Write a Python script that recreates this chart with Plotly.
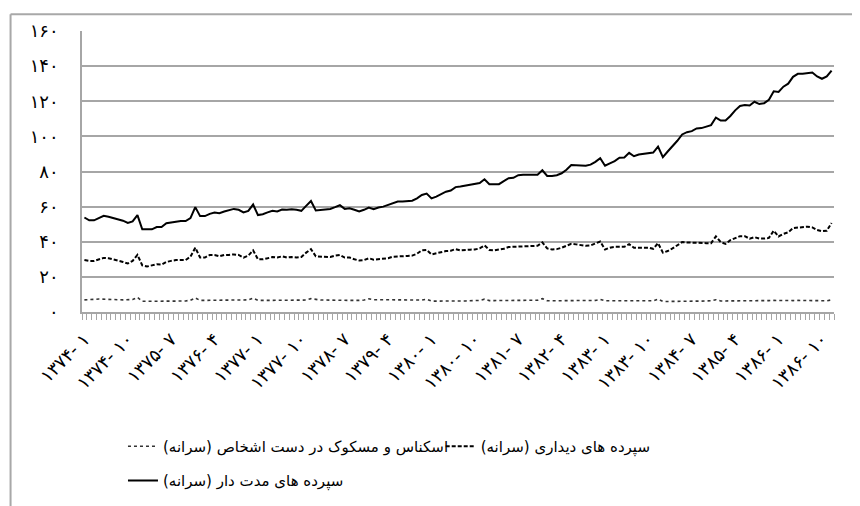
import plotly.graph_objects as go

# monthly per-capita series, 1374-1 .. 1386-12 (12 values per row = one year)
term_dep = [
    53.8, 52.2, 52.2, 53.5, 54.8, 54.2, 53.5, 52.5, 52.0, 50.7, 51.6, 55.2,
    47.1, 47.1, 47.1, 48.4, 48.4, 50.5, 51.0, 51.6, 51.8, 51.8, 53.5, 59.7,
    54.6, 54.6, 55.9, 56.7, 56.3, 57.2, 57.8, 58.7, 58.2, 56.7, 57.6, 61.2,
    55.2, 55.7, 56.7, 57.6, 57.2, 58.3, 58.2, 58.5, 58.2, 57.6, 60.4, 63.2,
    57.8, 58.2, 58.7, 58.7, 59.7, 60.8, 58.7, 59.1, 58.2, 57.2, 58.2, 59.5,
    58.5, 59.5, 60.0, 61.0, 61.9, 62.9, 62.9, 63.2, 63.4, 64.7, 66.6, 67.4,
    64.7, 65.7, 67.2, 68.5, 69.2, 71.1, 71.5, 71.9, 72.4, 73.0, 73.4, 75.6,
    72.8, 72.8, 72.8, 74.5, 76.2, 76.4, 77.9, 78.2, 78.2, 78.2, 78.2, 80.7,
    77.5, 77.5, 77.9, 79.0, 81.0, 83.7, 83.5, 83.7, 83.3, 83.9, 85.5, 87.6,
    83.3, 84.6, 85.9, 87.8, 88.0, 90.6, 88.7, 89.7, 90.2, 90.6, 90.8, 94.2,
    88.2, 91.4, 94.4, 97.5, 101.1, 102.4, 103.0, 104.5, 104.7, 105.4, 106.4, 110.7,
    109.0, 109.0, 111.6, 114.8, 117.3, 117.8, 117.6, 119.7, 118.4, 118.9, 120.8, 125.7,
    125.3, 128.3, 130.0, 133.9, 135.6, 135.6, 136.0, 136.4, 134.1, 132.8, 134.1, 137.5,
]

demand_dep = [
    29.6, 29.1, 29.1, 30.0, 30.8, 30.6, 30.0, 29.5, 28.5, 27.6, 29.1, 32.5,
    26.6, 25.9, 26.6, 27.2, 27.0, 28.5, 29.1, 29.6, 29.6, 29.6, 31.5, 36.6,
    31.0, 31.0, 32.5, 32.5, 31.7, 32.5, 32.5, 32.8, 32.5, 31.0, 32.1, 35.1,
    30.0, 30.0, 30.6, 31.3, 31.0, 31.7, 31.0, 31.3, 31.0, 31.3, 33.8, 35.8,
    31.7, 31.7, 31.7, 31.3, 32.1, 32.5, 31.0, 31.0, 30.0, 29.3, 29.6, 30.6,
    29.8, 30.0, 30.2, 30.6, 31.5, 31.5, 31.5, 31.9, 32.1, 33.2, 35.1, 35.3,
    32.8, 33.4, 34.3, 34.7, 34.9, 35.8, 35.1, 35.1, 35.5, 35.6, 36.2, 37.9,
    35.3, 35.1, 35.5, 36.0, 37.0, 37.1, 37.5, 37.5, 37.5, 37.5, 37.7, 39.6,
    36.2, 35.6, 35.8, 36.6, 37.5, 38.8, 38.5, 38.1, 37.7, 37.9, 38.8, 40.1,
    35.6, 36.6, 37.1, 37.3, 37.1, 38.6, 36.6, 36.6, 36.6, 36.6, 36.0, 39.2,
    33.8, 34.7, 36.2, 38.1, 39.8, 39.6, 39.4, 39.4, 39.4, 39.2, 39.2, 43.0,
    39.8, 38.8, 40.9, 42.2, 43.2, 43.2, 41.7, 42.6, 41.8, 41.8, 42.2, 46.3,
    43.0, 44.5, 45.4, 47.8, 48.2, 48.2, 48.6, 48.2, 46.7, 46.0, 46.3, 50.7,
]

currency = [
    6.9, 6.9, 7.2, 7.4, 7.4, 7.4, 7.2, 7.0, 6.9, 6.9, 7.1, 8.3,
    6.1, 6.1, 6.2, 6.2, 6.2, 6.2, 6.2, 6.2, 6.2, 6.3, 6.7, 8.0,
    6.6, 6.6, 6.7, 6.8, 6.8, 6.9, 7.0, 6.9, 6.7, 6.7, 6.9, 7.8,
    6.6, 6.6, 6.6, 6.6, 6.6, 6.6, 6.6, 6.6, 6.6, 6.6, 6.8, 7.6,
    7.0, 6.8, 6.8, 6.7, 6.6, 6.8, 6.7, 6.7, 6.6, 6.6, 6.8, 7.5,
    7.0, 7.0, 7.0, 6.9, 6.9, 6.8, 6.7, 6.7, 6.6, 6.6, 6.8, 7.3,
    6.2, 6.2, 6.3, 6.3, 6.3, 6.3, 6.3, 6.3, 6.3, 6.4, 6.6, 7.3,
    6.5, 6.5, 6.5, 6.5, 6.5, 6.5, 6.5, 6.5, 6.5, 6.5, 6.7, 7.6,
    6.4, 6.4, 6.4, 6.4, 6.4, 6.4, 6.5, 6.5, 6.4, 6.5, 6.6, 7.2,
    6.4, 6.4, 6.4, 6.4, 6.4, 6.4, 6.4, 6.4, 6.3, 6.2, 6.4, 7.3,
    6.0, 6.0, 6.1, 6.2, 6.2, 6.3, 6.3, 6.2, 6.2, 6.2, 6.4, 7.0,
    6.3, 6.3, 6.3, 6.3, 6.3, 6.3, 6.3, 6.2, 6.1, 6.1, 6.5, 6.6,
    6.5, 6.5, 6.5, 6.5, 6.6, 6.6, 6.6, 6.6, 6.5, 6.4, 6.4, 6.9,
]

# x tick labels, one every 9 months
x_ticks = [
    "۱۳۷۴- ۱", "۱۳۷۴- ۱۰", "۱۳۷۵- ۷", "۱۳۷۶- ۴", "۱۳۷۷- ۱", "۱۳۷۷- ۱۰",
    "۱۳۷۸- ۷", "۱۳۷۹- ۴", "۱۳۸۰- ۱", "۱۳۸۰- ۱۰", "۱۳۸۱- ۷", "۱۳۸۲- ۴",
    "۱۳۸۳- ۱", "۱۳۸۳- ۱۰", "۱۳۸۴- ۷", "۱۳۸۵- ۴", "۱۳۸۶- ۱", "۱۳۸۶- ۱۰",
]
y_vals = [0, 20, 40, 60, 80, 100, 120, 140, 160]
y_ticks = ["۰", "۲۰", "۴۰", "۶۰", "۸۰", "۱۰۰", "۱۲۰", "۱۴۰", "۱۶۰"]

name_cur = "اسکناس و مسکوک در دست اشخاص (سرانه)"
name_dem = "سپرده های دیداری (سرانه)"
name_term = "سپرده های مدت دار (سرانه)"

months = list(range(len(term_dep)))
tick_pos = months[::9]

fig = go.Figure()
fig.add_trace(go.Scatter(x=months, y=currency, name=name_cur, mode="lines", showlegend=True,
                         line=dict(color="#333333", width=1.6, dash="dot"), legend="legend"))
fig.add_trace(go.Scatter(x=months, y=demand_dep, name=name_dem, mode="lines", showlegend=True,
                         line=dict(color="black", width=2, dash="4px,2px"), legend="legend3"))
fig.add_trace(go.Scatter(x=months, y=term_dep, name=name_term, mode="lines", showlegend=True,
                         line=dict(color="black", width=2), legend="legend2"))

grid = "#a6a6a6"
fig.update_xaxes(
    range=[-0.5, len(months) - 0.5], tickvals=tick_pos, ticktext=x_ticks, tickangle=-45,
    showgrid=False, showline=True, linecolor=grid, linewidth=1.5,
    ticks="outside", ticklen=8, tickcolor="rgba(0,0,0,0)",
    minor=dict(ticks="outside", ticklen=6, tick0=-0.5, dtick=1, tickcolor=grid, showgrid=False),
    tickfont=dict(size=18, color="black"), zeroline=False,
)
fig.update_yaxes(
    range=[0, 160], tickvals=y_vals, ticktext=y_ticks,
    showgrid=True, gridcolor=grid, gridwidth=1.5,
    showline=True, linecolor=grid, linewidth=1.5,
    ticks="outside", ticklen=0, tickcolor="rgba(0,0,0,0)", ticklabelstandoff=18,
    tickfont=dict(size=18, color="black"), zeroline=False,
)

# outer chart frame (left and top edges only)
frame_color = "#a8a8a8"
fig.add_shape(type="line", xref="paper", yref="paper", layer="above",
              x0=-0.095, x1=1.06, y0=1.06, y1=1.06, line=dict(color=frame_color, width=2))
fig.add_shape(type="line", xref="paper", yref="paper", layer="above",
              x0=-0.095, x1=-0.095, y0=1.06, y1=-0.72, line=dict(color=frame_color, width=2))

leg_font = dict(family="DejaVu Sans", size=15, color="black")
leg = dict(orientation="h", xanchor="left", yanchor="top", font=leg_font, bgcolor="rgba(0,0,0,0)")
fig.update_layout(
    width=860, height=506, showlegend=True,
    margin=dict(l=74, r=34, t=19, b=202),
    plot_bgcolor="white", paper_bgcolor="white",
    font=dict(family="DejaVu Sans", color="black"),
    legend=dict(x=0.0545, y=-0.420, **leg),
    legend3=dict(x=0.477, y=-0.420, **leg),
    legend2=dict(x=0.0545, y=-0.5415, **leg),
)

fig.write_html("out.html")
